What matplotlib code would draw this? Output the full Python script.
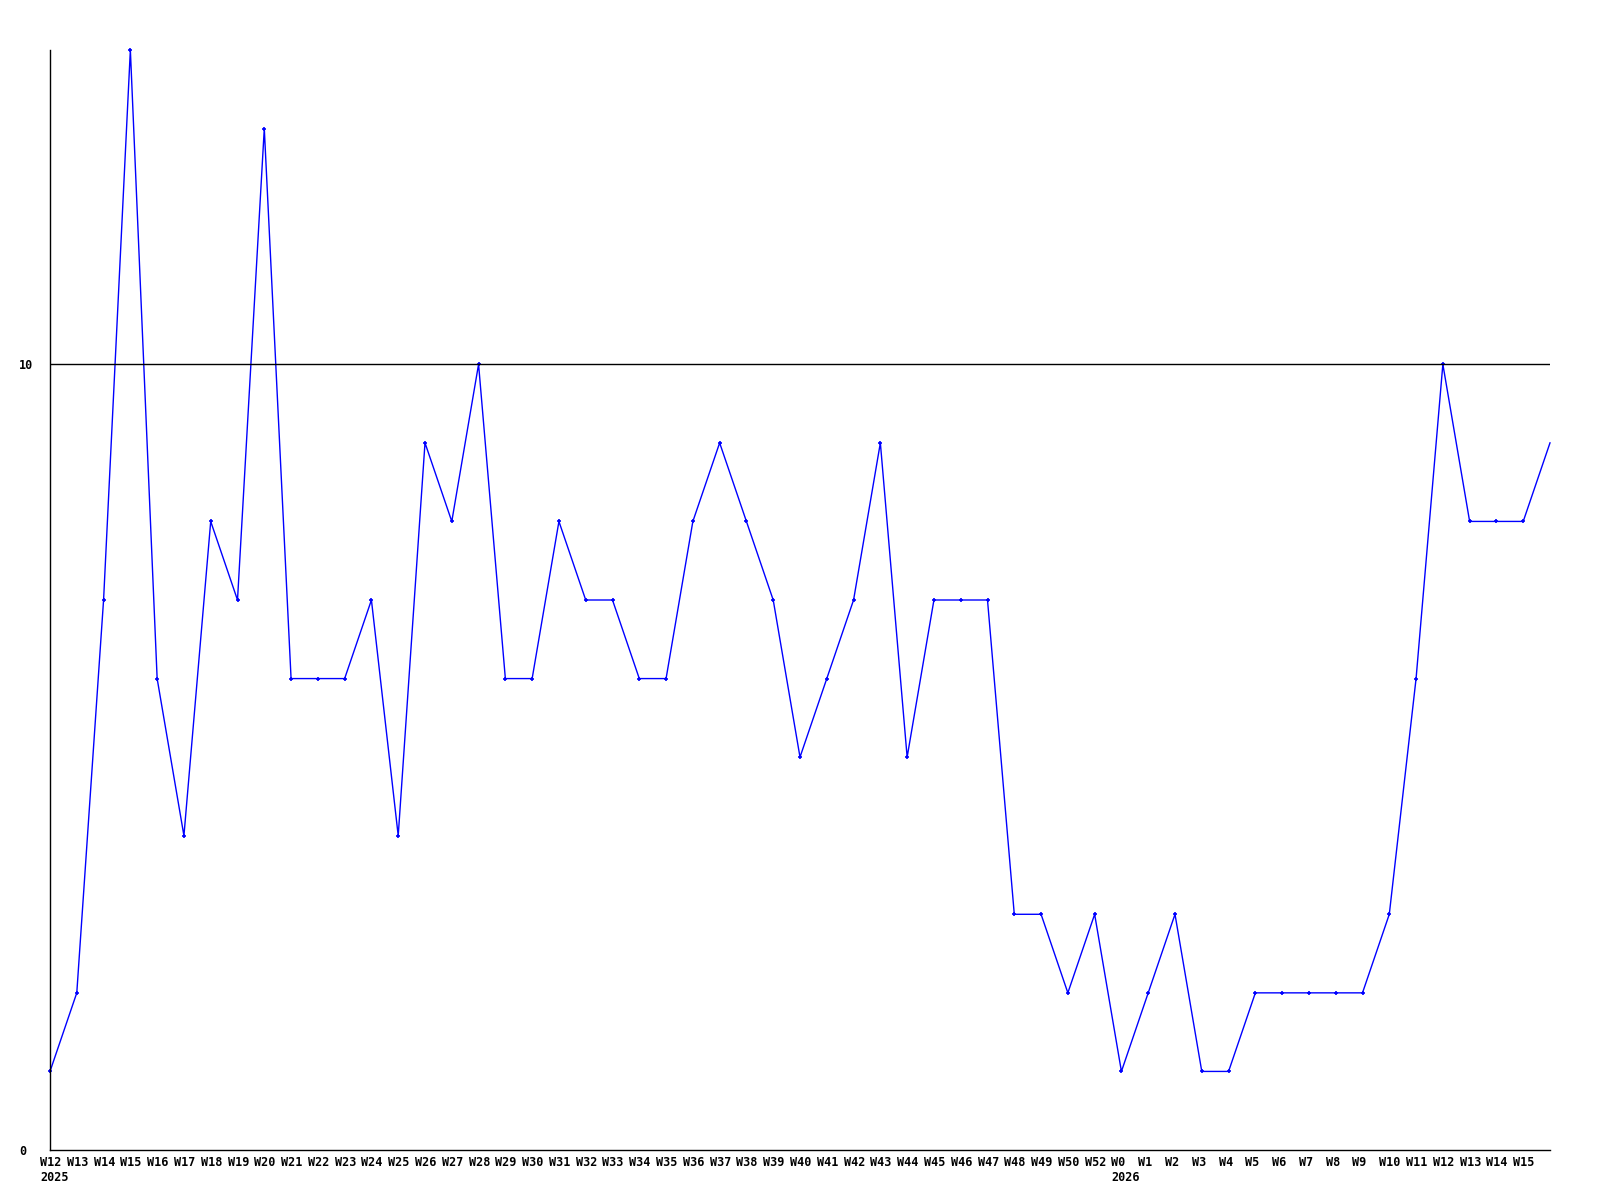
import matplotlib
matplotlib.use("Agg")
import matplotlib.pyplot as plt
import matplotlib.transforms as mtransforms

# weekly counts, W12 2025 .. W15 2026 plus one trailing point
weeks = ["W12", "W13", "W14", "W15", "W16", "W17", "W18", "W19", "W20", "W21",
         "W22", "W23", "W24", "W25", "W26", "W27", "W28", "W29", "W30", "W31",
         "W32", "W33", "W34", "W35", "W36", "W37", "W38", "W39", "W40", "W41",
         "W42", "W43", "W44", "W45", "W46", "W47", "W48", "W49", "W50", "W52",
         "W0", "W1", "W2", "W3", "W4", "W5", "W6", "W7", "W8", "W9",
         "W10", "W11", "W12", "W13", "W14", "W15", ""]
years = {0: "2025", 40: "2026"}
values = [1, 2, 7, 14, 6, 4, 8, 7, 13, 6,
          6, 6, 7, 4, 9, 8, 10, 6, 6, 8,
          7, 7, 6, 6, 8, 9, 8, 7, 5, 6,
          7, 9, 5, 7, 7, 7, 3, 3, 2, 3,
          1, 2, 3, 1, 1, 2, 2, 2, 2, 2,
          3, 6, 10, 8, 8, 8, 9]
yticks = [0, 10]

fig = plt.figure(figsize=(16, 12), dpi=100)
ax = fig.add_axes([50 / 1600, 50 / 1200, 1500 / 1600, 1100 / 1200])

x = list(range(len(values)))
# last point has no marker (partial week)
ax.plot(x, values, color="#0000ff", linewidth=1, marker="+", markersize=3.5,
        markeredgewidth=1.2, markevery=list(range(len(values) - 1)), clip_on=False)
ax.axhline(10, color="black", linewidth=1)

ax.set_xlim(0, len(values) - 1)
ax.set_ylim(0, 14)

for s in ["top", "right"]:
    ax.spines[s].set_visible(False)
for s in ["left", "bottom"]:
    ax.spines[s].set_linewidth(1)
    ax.spines[s].set_color("black")

font = dict(family="DejaVu Sans Mono", weight="bold", size=8.5)

# x labels, left aligned a bit before each point
labels = []
for i, w in enumerate(weeks):
    if i in years:
        labels.append(w + "\n" + years[i])
    else:
        labels.append(w)
ax.set_xticks(x)
ax.set_xticklabels(labels, ha="left", va="top", linespacing=1.2, **font)
ax.tick_params(axis="x", length=0, pad=4.5)
shift = mtransforms.ScaledTranslation(-10 / 100, 0, fig.dpi_scale_trans)
for lab in ax.get_xticklabels():
    lab.set_transform(lab.get_transform() + shift)

ax.set_yticks(yticks)
ax.set_yticklabels([str(v) for v in yticks], ha="left", **font)
ax.tick_params(axis="y", length=0, pad=0)
yshift = mtransforms.ScaledTranslation(-31 / 100, 0, fig.dpi_scale_trans)
for lab in ax.get_yticklabels():
    lab.set_transform(lab.get_transform() + yshift)

fig.savefig("out.png", dpi=100)
